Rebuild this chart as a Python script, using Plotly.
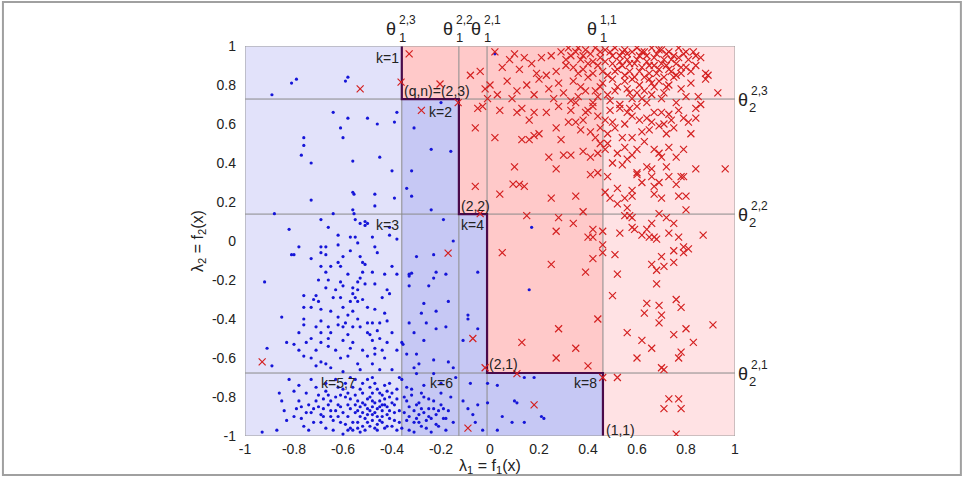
import plotly.graph_objects as go

# thresholds (data coordinates)
theta1 = {"2,3": -0.36, "2,2": -0.127, "2,1": -0.012, "1,1": 0.461}
theta2 = {"2,3": 0.728, "2,2": 0.138, "2,1": -0.677}

tick_vals = [-1, -0.8, -0.6, -0.4, -0.2, 0, 0.2, 0.4, 0.6, 0.8, 1]
tick_text = ["-1", "-0.8", "-0.6", "-0.4", "-0.2", "0", "0.2", "0.4", "0.6", "0.8", "1"]

red_points = [
    (0.02,0.97),(0.08,0.93),(0.12,0.88),(0.17,0.91),(0.21,0.94),(0.25,0.95),(0.29,0.97),(0.32,0.99),(0.33,0.95),(0.35,0.97),
    (0.37,0.93),(0.39,0.98),(0.41,0.96),(0.43,0.99),(0.45,0.94),(0.47,0.98),(0.49,0.97),(0.51,0.99),(0.53,0.95),(0.55,0.98),
    (0.56,0.93),(0.58,0.97),(0.6,0.99),(0.61,0.95),(0.63,0.97),(0.64,0.92),(0.66,0.99),(0.68,0.96),(0.7,0.98),(0.71,0.93),
    (0.73,0.97),(0.75,0.95),(0.77,0.99),(0.79,0.96),(0.81,0.93),(0.83,0.97),(0.86,0.94),(0.5,0.91),(0.52,0.88),(0.54,0.9),
    (0.57,0.87),(0.59,0.91),(0.62,0.89),(0.65,0.86),(0.67,0.9),(0.69,0.88),(0.72,0.9),(0.74,0.87),(0.76,0.91),(0.78,0.86),
    (0.8,0.89),(0.84,0.9),(0.88,0.86),(0.44,0.9),(0.46,0.87),(0.42,0.92),(0.38,0.88),(0.36,0.86),(0.31,0.9),(0.27,0.87),
    (0.23,0.85),(0.19,0.86),(0.14,0.94),(0.05,0.89),(0.1,0.96),
    (0.0,0.8),(0.03,0.75),(0.07,0.82),(0.11,0.77),(0.15,0.8),(0.2,0.83),(0.24,0.78),(0.28,0.81),(0.3,0.76),(0.34,0.82),
    (0.37,0.79),(0.4,0.84),(0.43,0.77),(0.46,0.81),(0.48,0.75),(0.5,0.83),(0.52,0.79),(0.55,0.82),(0.57,0.76),(0.59,0.84),
    (0.61,0.8),(0.63,0.77),(0.65,0.83),(0.67,0.79),(0.69,0.82),(0.71,0.76),(0.73,0.8),(0.75,0.84),(0.78,0.78),(0.82,0.81),
    (0.88,0.83),(0.93,0.76),(0.85,0.74),(0.62,0.73),(0.44,0.74),(0.26,0.73),(0.18,0.75),
    (0.31,0.93),(0.34,0.89),(0.36,0.99),(0.38,0.95),(0.40,0.91),(0.42,0.86),(0.45,0.97),(0.47,0.92),(0.48,0.85),(0.50,0.95),
    (0.51,0.87),(0.53,0.92),(0.54,0.97),(0.55,0.85),(0.56,0.96),(0.57,0.91),(0.58,0.83),(0.60,0.93),(0.61,0.87),(0.62,0.97),
    (0.63,0.84),(0.64,0.95),(0.65,0.90),(0.66,0.81),(0.67,0.94),(0.68,0.86),(0.69,0.98),(0.70,0.91),(0.71,0.84),(0.72,0.96),
    (0.73,0.88),(0.74,0.93),(0.76,0.85),(0.77,0.94),(0.78,0.89),(0.80,0.97),(0.82,0.87),(0.84,0.95),(0.36,0.74),(0.39,0.77),
    (0.42,0.71),(0.45,0.79),(0.49,0.72),(0.51,0.77),(0.53,0.70),(0.56,0.78),(0.58,0.73),(0.60,0.76),(0.64,0.71),(0.66,0.75),
    (0.70,0.73),(0.72,0.79),(0.76,0.71),(0.80,0.74),(0.33,0.67),(0.35,0.71),(0.38,0.62),(0.39,0.66),(0.45,0.58),(0.47,0.62),
    (0.49,0.67),(0.51,0.58),(0.55,0.60),(0.57,0.68),(0.61,0.62),(0.62,0.56),(0.66,0.61),(0.71,0.60),(0.74,0.62),(0.77,0.67),
    (0.81,0.61),(0.86,0.7),(0.52,0.45),(0.56,0.42),(0.6,0.47),(0.63,0.51),(0.73,0.48),(0.76,0.43),(0.72,0.55),(0.5,0.40),
    (0.47,0.47),(0.45,0.5),
    (-0.33,0.96),(-0.363,0.815),(-0.53,0.78),(-0.204,0.805),(-0.28,0.67),(-0.13,0.71),(-0.08,0.85),(-0.04,0.87),(-0.02,0.78),
    (-0.05,0.68),(-0.03,0.69),(-0.06,0.58),(-0.06,0.28),(-0.04,0.14),(-0.01,0.73),
    (-0.93,-0.62),(-0.171,-0.062),(-0.07,-0.5),(-0.09,-0.96),(0.18,-0.84),(-0.02,-0.65),(0.11,-0.68),(0.46,-0.70),
    (0.78,-0.57),(0.62,-0.51),(0.70,-0.65),(0.71,-0.66),(0.52,-0.70),(0.73,-0.81),(0.77,-0.81),(0.71,-0.86),(0.78,-0.86),(0.76,-0.99),
    (0.094,0.292),(0.12,0.29),(0.14,0.28),(0.04,0.24),(0.25,0.22),(0.35,0.23),(0.38,0.15),(0.15,0.13),(0.28,0.12),(0.34,0.09),
    (0.27,0.05),(0.42,0.06),(0.40,0.02),(0.42,0.02),(0.46,0.05),(0.46,-0.02),(0.46,-0.06),(0.05,-0.06),(0.25,-0.12),(0.42,-0.09),
    (0.39,-0.16),(0.51,-0.07),(0.52,-0.17),(0.50,-0.28),(0.47,0.25),(0.49,0.22),(0.52,0.19),(0.55,0.22),(0.58,0.26),(0.58,0.23),
    (0.52,0.27),(0.56,0.17),(0.55,0.13),(0.57,0.13),(0.58,0.12),(0.58,0.07),(0.59,0.06),(0.53,0.04),(0.60,0.34),(0.62,0.30),
    (0.66,0.33),(0.67,0.28),(0.67,0.24),(0.69,0.30),(0.70,0.22),(0.73,0.33),(0.76,0.29),(0.79,0.33),(0.77,0.23),(0.80,0.23),
    (0.80,0.16),(0.69,0.14),(0.72,0.12),(0.75,0.09),(0.66,0.09),(0.64,0.06),(0.62,0.03),(0.65,0.02),(0.67,0.02),(0.68,0.01),
    (0.73,0.04),(0.77,0.02),(0.87,0.03),(0.79,-0.03),(0.81,-0.04),(0.79,-0.06),(0.75,-0.05),(0.70,-0.08),(0.75,-0.11),(0.66,-0.12),
    (0.71,-0.13),(0.68,-0.15),(0.68,-0.22),(0.76,-0.30),(0.64,-0.32),(0.69,-0.33),(0.78,-0.34),
    (0.28,-0.45),(0.44,-0.40),(0.63,-0.37),(0.69,-0.42),(0.75,-0.48),(0.80,-0.45),(0.56,-0.47),(0.35,-0.55),(0.60,-0.60),(0.66,-0.55),
    (0.83,-0.52),(0.27,-0.60),(0.13,-0.52),(0.40,-0.64),(0.70,-0.38),(0.91,-0.43),(0.77,-0.60),
    (0.04,0.67),(0.02,0.53),(0.10,0.38),(0.13,0.52),(0.16,0.52),(0.18,0.54),(0.20,0.55),(0.29,0.52),(0.24,0.43),(0.27,0.37),
    (0.30,0.44),(0.33,0.44),(0.38,0.46),(0.41,0.43),(0.44,0.45),(0.41,0.34),(0.44,0.35),(0.11,0.66),(0.13,0.68),(0.18,0.66),
    (0.16,0.62),(0.23,0.66),(0.28,0.69),(0.27,0.58),(0.32,0.61),(0.35,0.61),(0.37,0.57),(0.41,0.56),(0.43,0.53),(0.44,0.64),
    (0.40,0.67),(0.42,0.69),(0.33,0.72),(0.09,0.73),
    (0.48,0.55),(0.48,0.50),(0.50,0.61),(0.53,0.68),(0.56,0.66),(0.58,0.64),(0.60,0.69),(0.64,0.63),(0.67,0.66),(0.70,0.66),
    (0.73,0.65),(0.79,0.63),(0.84,0.68),(0.54,0.53),(0.58,0.53),(0.65,0.57),(0.69,0.59),(0.75,0.58),(0.82,0.55),(0.84,0.63),
    (0.55,0.48),(0.58,0.44),(0.67,0.47),(0.69,0.45),(0.70,0.43),(0.64,0.38),(0.66,0.37),(0.79,0.47),(0.84,0.37),(0.96,0.37),
    (0.54,0.39),(0.60,0.35),(0.72,0.38),(0.78,0.33),(0.48,0.33),(0.89,0.85),
]

blue_points = [
    (-0.89,0.75),(-0.81,0.81),(-0.79,0.83),(-0.59,0.82),(-0.58,0.84),(-0.64,0.66),(-0.58,0.63),(-0.50,0.63),(-0.46,0.60),(-0.39,0.61),
    (-0.38,0.66),(-0.61,0.58),(-0.76,0.53),(-0.76,0.49),(-0.60,0.53),(-0.77,0.44),(-0.73,0.40),(-0.56,0.41),(-0.45,0.43),(-0.40,0.36),
    (-0.56,0.25),(-0.555,0.24),(-0.47,0.24),(-0.39,0.22),(-0.47,0.18),(-0.73,0.21),(-0.88,0.14),(-0.56,0.16),(-0.555,0.14),(-0.64,0.14),
    (-0.69,0.11),(-0.66,0.07),(-0.55,0.11),(-0.53,0.09),(-0.51,0.10),(-0.50,0.09),(-0.51,0.08),(-0.82,0.06),(-0.41,0.07),
    (-0.20,0.71),(-0.31,0.58),(-0.24,0.47),(-0.16,0.46),(-0.32,0.36),(-0.34,0.27),(-0.32,0.23),(-0.24,0.16),(-0.19,0.11),
    (0.02,0.96),(0.17,0.07),(0.16,-0.25),(-0.05,-0.16),(-0.15,0.0),(-0.23,-0.07),(-0.30,-0.08),(-0.22,-0.16),(-0.23,-0.19),
    (-0.33,-0.18),(-0.33,-0.23),(-0.25,-0.23),(-0.18,-0.17),
    (-0.33,-0.17),(-0.32,-0.165),(-0.17,-0.31),(-0.27,-0.32),(-0.28,-0.37),(-0.22,-0.36),(-0.33,-0.42),(-0.31,-0.47),(-0.26,-0.42),
    (-0.22,-0.45),(-0.18,-0.44),(-0.36,-0.52),(-0.355,-0.53),(-0.34,-0.58),(-0.30,-0.58),(-0.27,-0.51),(-0.29,-0.63),(-0.23,-0.61),
    (-0.17,-0.62),(-0.15,-0.65),(-0.09,-0.40),(-0.05,-0.45),(-0.11,-0.51),(-0.09,-0.38),
    (-0.62,0.03),(-0.57,0.02),(-0.55,0.02),(-0.48,0.02),(-0.41,0.03),(-0.38,0.01),(-0.78,-0.03),(-0.69,-0.03),(-0.67,-0.03),
    (-0.62,-0.02),(-0.54,-0.01),(-0.46,-0.06),(-0.81,-0.07),(-0.80,-0.07),(-0.73,-0.09),(-0.69,-0.06),(-0.67,-0.07),(-0.60,-0.08),
    (-0.53,-0.08),(-0.62,-0.11),(-0.69,-0.13),(-0.65,-0.13),(-0.52,-0.11),(-0.51,-0.12),(-0.61,-0.13),(-0.58,-0.17),(-0.67,-0.16),
    (-0.52,-0.16),(-0.48,-0.16),(-0.43,-0.17),(-0.38,-0.17),(-0.40,-0.13),(-0.92,-0.21),(-0.66,-0.20),(-0.61,-0.21),(-0.54,-0.21),
    (-0.51,-0.22),(-0.47,-0.22),(-0.60,-0.23),(-0.67,-0.24),(-0.56,-0.24),(-0.54,-0.25),(-0.42,-0.25),(-0.41,-0.27),(-0.56,-0.27),
    (-0.55,-0.29),(-0.71,-0.28),(-0.76,-0.28),(-0.70,-0.31),(-0.72,-0.30),(-0.64,-0.29),(-0.61,-0.29),(-0.57,-0.31),(-0.54,-0.31),
    (-0.76,-0.34),(-0.73,-0.34),(-0.69,-0.35),(-0.65,-0.36),(-0.60,-0.34),(-0.56,-0.36),(-0.50,-0.34),(-0.43,-0.37),(-0.85,-0.39),
    (-0.76,-0.40),(-0.69,-0.41),(-0.62,-0.39),(-0.59,-0.42),(-0.54,-0.40),(-0.50,-0.42),(-0.48,-0.42),(-0.45,-0.42),(-0.42,-0.41),
    (-0.76,-0.43),(-0.71,-0.44),(-0.66,-0.44),(-0.62,-0.43),(-0.56,-0.44),(-0.53,-0.44),(-0.78,-0.47),(-0.69,-0.47),(-0.65,-0.47),
    (-0.58,-0.48),(-0.50,-0.47),(-0.46,-0.46),(-0.40,-0.47),(-0.73,-0.50),(-0.69,-0.52),(-0.60,-0.51),(-0.56,-0.52),(-0.48,-0.51),
    (-0.45,-0.50),(-0.42,-0.52),(-0.83,-0.52),(-0.80,-0.53),(-0.78,-0.56),(-0.71,-0.56),(-0.66,-0.54),(-0.57,-0.55),(-0.52,-0.56),
    (-0.47,-0.55),(-0.38,-0.56),(-0.91,-0.55),(-0.76,-0.59),(-0.73,-0.60),(-0.69,-0.62),(-0.61,-0.60),(-0.58,-0.59),(-0.50,-0.59),
    (-0.47,-0.58),(-0.43,-0.60),(-0.67,-0.63),(-0.89,-0.64),(-0.54,-0.63),(-0.48,-0.63),
    (-0.70,-0.20),(-0.63,-0.25),(-0.58,-0.38),(-0.52,-0.30),(-0.47,-0.35),(-0.44,-0.29),(-0.66,-0.50),(-0.63,-0.56),(-0.49,-0.48),
    (-0.44,-0.56),(-0.60,-0.44),(-0.75,-0.52),(-0.53,-0.19),(-0.57,-0.05),(-0.47,-0.03),
    (-0.93,-0.98),(-0.87,-0.97),(-0.85,-0.82),(-0.83,-0.92),(-0.82,-0.71),(-0.80,-0.77),(-0.79,-0.86),(-0.77,-0.91),(-0.75,-0.78),
    (-0.73,-0.71),(-0.73,-0.88),(-0.71,-0.82),(-0.70,-0.79),(-0.69,-0.93),(-0.68,-0.86),(-0.67,-0.96),(-0.67,-0.77),(-0.65,-0.90),
    (-0.65,-0.82),(-0.63,-0.71),(-0.63,-0.87),(-0.61,-0.93),(-0.61,-0.79),(-0.60,-0.99),(-0.58,-0.84),(-0.58,-0.90),(-0.57,-0.96),
    (-0.56,-0.75),(-0.55,-0.88),(-0.54,-0.82),(-0.54,-0.93),(-0.53,-0.98),(-0.52,-0.78),(-0.52,-0.88),(-0.51,-0.84),(-0.50,-0.71),
    (-0.50,-0.93),(-0.49,-0.80),(-0.48,-0.89),(-0.48,-0.85),(-0.47,-0.96),(-0.46,-0.76),(-0.46,-0.90),(-0.45,-0.82),(-0.44,-0.87),
    (-0.44,-0.93),(-0.43,-0.74),(-0.42,-0.85),(-0.42,-0.89),(-0.41,-0.80),(-0.40,-0.95),(-0.40,-0.83),(-0.39,-0.88),(-0.38,-0.76),
    (-0.37,-0.93),(-0.53,-0.66),(-0.60,-0.67),(-0.45,-0.66),(-0.40,-0.66),(-0.71,-0.64),(-0.65,-0.65),(-0.86,-0.78),(-0.84,-0.87),
    (-0.78,-0.82),(-0.71,-0.75),(-0.62,-0.75),(-0.55,-0.71),(-0.48,-0.70),
    (-0.66,-0.84),(-0.64,-0.92),(-0.59,-0.80),(-0.57,-0.86),(-0.53,-0.85),(-0.51,-0.91),(-0.49,-0.87),(-0.47,-0.83),(-0.45,-0.92),
    (-0.43,-0.84),(-0.41,-0.91),(-0.39,-0.84),(-0.60,-0.88),(-0.56,-0.93),(-0.52,-0.95),(-0.50,-0.86),(-0.46,-0.86),(-0.44,-0.79),
    (-0.72,-0.86),(-0.68,-0.90),(-0.62,-0.84),(-0.58,-0.78),(-0.54,-0.87),(-0.48,-0.92),(-0.42,-0.95),(-0.74,-0.84),
    (-0.76,-0.95),(-0.74,-0.97),(-0.72,-0.93),(-0.70,-0.85),(-0.69,-0.89),(-0.66,-0.79),(-0.64,-0.97),(-0.63,-0.80),(-0.62,-0.90),
    (-0.61,-0.85),(-0.59,-0.94),(-0.59,-0.73),(-0.57,-0.81),(-0.56,-0.97),(-0.55,-0.84),(-0.55,-0.79),(-0.53,-0.90),(-0.53,-0.76),
    (-0.52,-0.83),(-0.51,-0.97),(-0.50,-0.81),(-0.50,-0.89),(-0.49,-0.95),(-0.49,-0.75),(-0.48,-0.82),(-0.47,-0.88),(-0.47,-0.73),
    (-0.46,-0.94),(-0.45,-0.85),(-0.45,-0.78),(-0.44,-0.90),(-0.43,-0.96),(-0.43,-0.81),(-0.42,-0.77),(-0.41,-0.87),(-0.40,-0.78),
    (-0.39,-0.92),(-0.38,-0.81),(-0.37,-0.87),(-0.80,-0.90),(-0.78,-0.74),(-0.77,-0.85),(-0.75,-0.88),(-0.68,-0.81),(-0.67,-0.73),
    (-0.65,-0.87),(-0.60,-0.76),(-0.58,-0.97),(-0.57,-0.70),(-0.54,-0.96),(-0.52,-0.73),(-0.48,-0.78),(-0.46,-0.97),(-0.44,-0.84),
    (-0.41,-0.73),(-0.38,-0.97),(-0.37,-0.70),
    (-0.36,-0.71),(-0.34,-0.82),(-0.33,-0.90),(-0.33,-0.97),(-0.32,-0.76),(-0.31,-0.87),(-0.31,-0.93),(-0.30,-0.68),(-0.29,-0.83),
    (-0.29,-0.89),(-0.28,-0.95),(-0.27,-0.74),(-0.27,-0.80),(-0.26,-0.92),(-0.25,-0.86),(-0.24,-0.98),(-0.23,-0.82),(-0.22,-0.89),
    (-0.22,-0.94),(-0.20,-0.84),(-0.20,-0.73),(-0.19,-0.91),(-0.18,-0.97),(-0.17,-0.87),(-0.16,-0.80),(-0.15,-0.93),(-0.14,-0.70),
    (-0.23,-0.68),(-0.31,-0.65),(-0.35,-0.88),(-0.28,-0.86),(-0.25,-0.90),(-0.21,-0.87),(-0.34,-0.75),(-0.30,-0.91),
    (-0.36,-0.96),(-0.35,-0.80),(-0.34,-0.92),(-0.33,-0.85),(-0.32,-0.79),(-0.31,-0.98),(-0.30,-0.84),(-0.29,-0.93),(-0.28,-0.78),
    (-0.27,-0.88),(-0.26,-0.96),(-0.25,-0.81),(-0.24,-0.91),(-0.23,-0.86),(-0.21,-0.95),(-0.20,-0.78),(-0.19,-0.86),(-0.18,-0.91),
    (-0.11,-0.82),(-0.09,-0.86),(-0.07,-0.89),(-0.06,-0.93),(-0.05,-0.84),(-0.03,-0.97),(-0.08,-0.73),(-0.01,-0.73),
    (0.03,-0.74),(-0.01,-0.83),(0.05,-0.90),(0.03,-0.97),(0.10,-0.82),(0.11,-0.83),(0.09,-0.93),(0.14,-0.93),(0.18,-0.70),
    (0.21,-0.90),(0.14,-0.70),(0.22,-0.91),
]

red_x = [p[0] for p in red_points]
red_y = [p[1] for p in red_points]
blue_x = [p[0] for p in blue_points]
blue_y = [p[1] for p in blue_points]

fig = go.Figure()

t23, t22, t21, t11 = theta1["2,3"], theta1["2,2"], theta1["2,1"], theta1["1,1"]
s23, s22, s21 = theta2["2,3"], theta2["2,2"], theta2["2,1"]

LIGHT_BLUE = "#e2e2fa"
MID_BLUE = "#c6c8f4"
MID_RED = "#ffc9c9"
LIGHT_RED = "#ffe2e4"

shapes = []
def rect(x0, x1, y0, y1, color):
    shapes.append(dict(type="rect", xref="x", yref="y", x0=x0, x1=x1, y0=y0, y1=y1,
                       fillcolor=color, line=dict(width=0), layer="below"))

rect(-1, t23, -1, 1, LIGHT_BLUE)
rect(t23, t22, -1, s23, MID_BLUE)
rect(t22, t21, -1, s22, MID_BLUE)
rect(t21, t11, -1, s21, MID_BLUE)
rect(t23, t22, s23, 1, MID_RED)
rect(t22, t21, s22, 1, MID_RED)
rect(t21, t11, s21, 1, MID_RED)
rect(t11, 1, -1, 1, LIGHT_RED)

GRID = "#8a8a8a"
for v in theta1.values():
    shapes.append(dict(type="line", xref="x", yref="y", x0=v, x1=v, y0=-1, y1=1,
                       line=dict(color=GRID, width=1), layer="below"))
for v in theta2.values():
    shapes.append(dict(type="line", xref="x", yref="y", x0=-1, x1=1, y0=v, y1=v,
                       line=dict(color=GRID, width=1), layer="below"))

# staircase boundary
stair = f"M {t23} 1 L {t23} {s23} L {t22} {s23} L {t22} {s22} L {t21} {s22} L {t21} {s21} L {t11} {s21} L {t11} -1"
shapes.append(dict(type="path", xref="x", yref="y", path=stair,
                   line=dict(color="#4a0a4a", width=2.2), layer="below"))

# plot frame
shapes.append(dict(type="rect", xref="x", yref="y", x0=-1, x1=1, y0=-1, y1=1,
                   line=dict(color="#9a9a9a", width=1), layer="below"))
# figure border
shapes.append(dict(type="rect", xref="paper", yref="paper", x0=-0.494, x1=1.461, y0=-0.1, y1=1.113,
                   line=dict(color="#a0a0a0", width=2)))

fig.add_trace(go.Scatter(x=blue_x, y=blue_y, mode="markers",
                         marker=dict(symbol="circle", size=3.2, color="#1515d8"),
                         showlegend=False, hoverinfo="skip"))
fig.add_trace(go.Scatter(x=red_x, y=red_y, mode="markers",
                         marker=dict(symbol="x-thin", size=7, color="#d42020",
                                     line=dict(width=1.2, color="#d42020")),
                         showlegend=False, hoverinfo="skip"))

FONT = "Liberation Sans, Arial, sans-serif"
ann = []
def txt(x, y, s, xanchor="center", size=14, xshift=0, yshift=0):
    ann.append(dict(x=x, y=y, xref="x", yref="y", text=s, showarrow=False,
                    xanchor=xanchor, yanchor="middle", xshift=xshift, yshift=yshift,
                    font=dict(family=FONT, size=size, color="#222")))

txt(t23, 0.94, "k=1", xanchor="right", xshift=-1)
txt(t23, 0.77, "(q,n)=(2,3)", xanchor="left", xshift=0)
txt(t22, 0.66, "k=2", xanchor="right", xshift=-5)
txt(t22, 0.18, "(2,2)", xanchor="left", xshift=0)
txt(t23, 0.08, "k=3", xanchor="right", xshift=-1)
txt(t22, 0.08, "k=4", xanchor="left", xshift=0)
txt(t21, -0.63, "(2,1)", xanchor="left", xshift=0)
txt(-0.62, -0.73, "k=5,7")
txt(-0.20, -0.73, "k=6")
txt(t11, -0.73, "k=8", xanchor="right", xshift=-4)
txt(t11, -0.97, "(1,1)", xanchor="left", xshift=1)

# theta labels on top
for key, v in theta1.items():
    ann.append(dict(x=v, y=1, xref="x", yref="y", text="θ", showarrow=False,
                    xanchor="center", yanchor="middle", xshift=-11, yshift=17,
                    font=dict(family=FONT, size=18, color="#222")))
    ann.append(dict(x=v, y=1, xref="x", yref="y", text=key, showarrow=False,
                    xanchor="left", yanchor="middle", xshift=-5, yshift=26,
                    font=dict(family=FONT, size=12, color="#222")))
    ann.append(dict(x=v, y=1, xref="x", yref="y", text="1", showarrow=False,
                    xanchor="left", yanchor="middle", xshift=-5, yshift=9,
                    font=dict(family=FONT, size=13, color="#222")))
# theta labels right
for key, v in theta2.items():
    ann.append(dict(x=1, y=v, xref="x", yref="y", text="θ", showarrow=False,
                    xanchor="left", yanchor="middle", xshift=1, yshift=-1,
                    font=dict(family=FONT, size=18, color="#222")))
    ann.append(dict(x=1, y=v, xref="x", yref="y", text=key, showarrow=False,
                    xanchor="left", yanchor="middle", xshift=14, yshift=8,
                    font=dict(family=FONT, size=12, color="#222")))
    ann.append(dict(x=1, y=v, xref="x", yref="y", text="2", showarrow=False,
                    xanchor="left", yanchor="middle", xshift=12, yshift=-8,
                    font=dict(family=FONT, size=13, color="#222")))

fig.update_layout(
    width=964, height=478,
    margin=dict(l=245, r=229, t=46, b=42, pad=0, autoexpand=False),
    paper_bgcolor="white", plot_bgcolor="white",
    shapes=shapes, annotations=ann,
    font=dict(family=FONT, size=14, color="#222"),
    xaxis=dict(range=[-1, 1], tickvals=tick_vals, ticktext=tick_text, showgrid=False,
               zeroline=False, showline=False, ticks="", tickfont=dict(size=14),
               ticklabelstandoff=3, automargin=False,
               title=dict(text="λ<sub>1</sub> = f<sub>1</sub>(x)", font=dict(size=16), standoff=2)),
    yaxis=dict(range=[-1, 1], tickvals=tick_vals, ticktext=tick_text, showgrid=False,
               zeroline=False, showline=False, ticks="", tickfont=dict(size=14),
               ticklabelstandoff=8, automargin=False,
               title=dict(text="λ<sub>2</sub> = f<sub>2</sub>(x)", font=dict(size=16), standoff=4)),
)

fig.write_html("out.html")
